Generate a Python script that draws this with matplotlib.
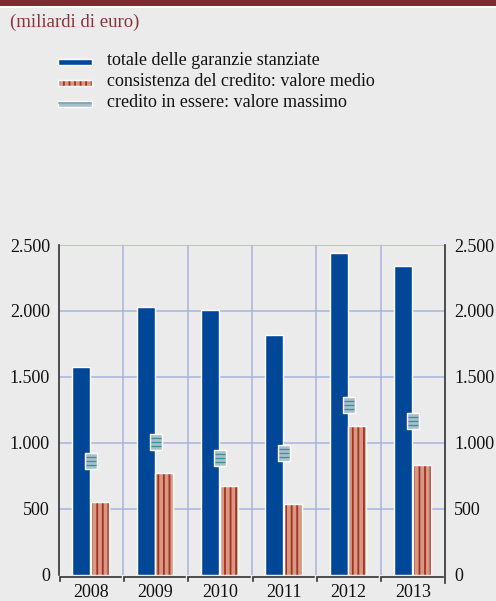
import matplotlib
matplotlib.use("Agg")
import matplotlib.pyplot as plt
from matplotlib.patches import Rectangle
from matplotlib.lines import Line2D
from matplotlib.path import Path
from matplotlib.ticker import FuncFormatter, FixedLocator
import numpy as np

# ---- data (miliardi di euro) ----
anni = ["2008", "2009", "2010", "2011", "2012", "2013"]
garanzie_stanziate = [1577, 2032, 2007, 1820, 2442, 2341]
credito_valore_medio = [552, 770, 674, 537, 1129, 828]
credito_valore_massimo = [861, 1008, 884, 920, 1286, 1167]
etichette = [
    "totale delle garanzie stanziate",
    "consistenza del credito: valore medio",
    "credito in essere: valore massimo",
]

# ---- style ----
BG = "#ebebeb"
BLUE = "#004897"
SALMON = "#d69a84"
STRIPE = "#a8301f"
MAXFILL = "#a6c0c9"
MAXLINE = "#3f8c97"
GRID = "#a9b3de"
DARKRED = "#7f2b2f"
SPINE = "#333333"

plt.rcParams["font.family"] = ["Liberation Serif", "DejaVu Serif"]
plt.rcParams["hatch.linewidth"] = 1.3

W, H = 496, 601
fig = plt.figure(figsize=(W / 100, H / 100), dpi=100, facecolor=BG)


def fx(px):
    return px / W


def fy(py):
    return 1 - py / H


# header band
fig.add_artist(Rectangle((0, fy(6)), 1, 6 / H, transform=fig.transFigure,
                         facecolor=DARKRED, edgecolor="none"))
fig.add_artist(Rectangle((0, fy(8)), 1, 2 / H, transform=fig.transFigure,
                         facecolor="white", edgecolor="none"))
fig.text(fx(10), fy(27), "(miliardi di euro)", color="#8a3236",
         fontsize=13.5, va="baseline", ha="left")

# ---- axes ----
ax = fig.add_axes([fx(59), fy(574.5), fx(445 - 59), (574.5 - 245) / H])
ax.set_facecolor(BG)
x = np.arange(len(anni))
bw = 0.28

ax.bar(x - 0.152, garanzie_stanziate, width=bw, color=BLUE,
       edgecolor="white", linewidth=1.0, zorder=3)
# striped bars: hatch drawn in the stripe colour, white outline on top
ax.bar(x + 0.138, credito_valore_medio, width=bw, color=SALMON,
       edgecolor=STRIPE, linewidth=0, hatch="|||", zorder=3)
ax.bar(x + 0.138, credito_valore_medio, width=bw, facecolor="none",
       edgecolor="white", linewidth=1.0, zorder=4)

# maximum-value markers: small upright tag with three rules
tag = Path([(-0.34, -0.5), (0.34, -0.5), (0.34, 0.5), (-0.34, 0.5), (-0.34, -0.5)],
           [Path.MOVETO, Path.LINETO, Path.LINETO, Path.LINETO, Path.CLOSEPOLY])
rules = Path([(-0.3, -0.25), (0.3, -0.25), (-0.3, 0.0), (0.3, 0.0),
              (-0.3, 0.25), (0.3, 0.25), (-0.5, -0.5), (-0.5, -0.5), (0.5, 0.5), (0.5, 0.5)],
             [Path.MOVETO, Path.LINETO] * 5)
ax.plot(x, credito_valore_massimo, linestyle="none", marker=tag, markersize=12.2,
        markerfacecolor=MAXFILL, markeredgecolor="white", markeredgewidth=1.0, zorder=5)
ax.plot(x, credito_valore_massimo, linestyle="none", marker=rules, markersize=12.2,
        markerfacecolor="none", markeredgecolor=MAXLINE, markeredgewidth=0.9, zorder=6)

ax.set_xlim(-0.5, len(anni) - 0.5)
ax.set_ylim(0, 2500)

# ticks and grid
ax.yaxis.set_major_locator(FixedLocator([0, 500, 1000, 1500, 2000, 2500]))
ax.yaxis.set_major_formatter(FuncFormatter(lambda v, p: f"{int(v):,}".replace(",", ".")))
ax.set_xticks(x)
ax.set_xticklabels(anni)
ax.xaxis.set_minor_locator(FixedLocator(x[:-1] + 0.5))
ax.tick_params(axis="y", length=0, labelsize=13, labelright=True, pad=6.5,
               labelcolor="#111111")
ax.tick_params(axis="y", which="major", labelright=True)
ax.tick_params(axis="x", which="both", length=0, labelsize=13, pad=7,
               labelcolor="#111111")
for lbl in ax.get_yticklabels(which="major"):
    pass
ax.yaxis.set_tick_params(which="major", pad=6.5)

for v in [500, 1000, 1500, 2000, 2500]:
    ax.axhline(v, color=GRID, linewidth=1.1, zorder=1)
ax.grid(False)
ax.xaxis.grid(True, which="minor", color=GRID, linewidth=1.1, zorder=1)
ax.set_axisbelow(True)

for side in ["top", "bottom"]:
    ax.spines[side].set_visible(False)
ax.spines["left"].set_color(SPINE)
ax.spines["right"].set_color(SPINE)
ax.spines["left"].set_linewidth(1.2)
ax.spines["right"].set_linewidth(1.2)
ax.spines["right"].set_bounds(-62, 2500)

# bracketed category axis along the bottom
ypx = 2500 / (574.5 - 245)
for i in x:
    xl, xr = i - 0.5 + 0.012, i + 0.5 - 0.035
    ax.plot([xl, xl, xr], [-6 * ypx, -2.2 * ypx, -2.2 * ypx], color=SPINE,
            linewidth=1.2, clip_on=False, solid_joinstyle="miter", zorder=6)

# ---- legend ----
rows = [62, 83, 103.5]
x0, x1 = 57.5, 92
hh = 6
fig.add_artist(Rectangle((fx(x0), fy(rows[0] + hh / 2)), fx(x1 - x0), hh / H,
                         transform=fig.transFigure, facecolor=BLUE,
                         edgecolor="white", linewidth=1.0))
fig.add_artist(Rectangle((fx(x0), fy(rows[1] + hh / 2)), fx(x1 - x0), hh / H,
                         transform=fig.transFigure, facecolor=SALMON,
                         edgecolor=STRIPE, linewidth=0, hatch="|||"))
fig.add_artist(Rectangle((fx(x0), fy(rows[1] + hh / 2)), fx(x1 - x0), hh / H,
                         transform=fig.transFigure, facecolor="none",
                         edgecolor="white", linewidth=1.0))
fig.add_artist(Rectangle((fx(x0), fy(rows[2] + hh / 2)), fx(x1 - x0), hh / H,
                         transform=fig.transFigure, facecolor=MAXFILL,
                         edgecolor="white", linewidth=1.0))
fig.add_artist(Line2D([fx(x0 + 1), fx(x1 - 1)], [fy(rows[2] - 1), fy(rows[2] - 1)],
                      transform=fig.transFigure, color="#79a6af", linewidth=1.2))
for r, t in zip(rows, etichette):
    fig.text(fx(107), fy(r + 3.2), t, fontsize=13, va="baseline", ha="left",
             color="#111111")

fig.savefig("out.png", dpi=100, facecolor=BG)
